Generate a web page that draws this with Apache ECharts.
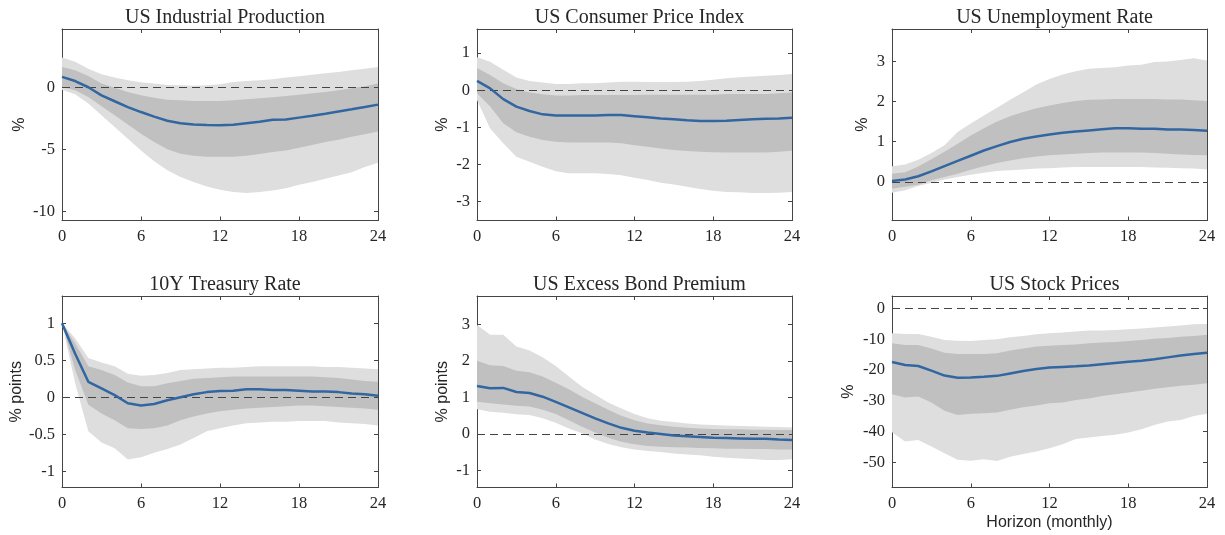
<!DOCTYPE html>
<html>
<head>
<meta charset="utf-8">
<title>Impulse responses</title>
<script src="https://cdn.jsdelivr.net/npm/echarts@6/dist/echarts.min.js"></script>
<style>
  html, body { margin: 0; padding: 0; background: #ffffff; }
  #chart { width: 1225px; height: 535px; }
</style>
</head>
<body>
<div id="chart"></div>
<script>
// Horizon in months and shared x tick positions
const horizon = [0,1,2,3,4,5,6,7,8,9,10,11,12,13,14,15,16,17,18,19,20,21,22,23,24];
const xTicks = [0, 6, 12, 18, 24];

// US Industrial Production (%)
const ipMedian  = [0.84,0.5,0.0,-0.65,-1.13,-1.6,-2.0,-2.37,-2.7,-2.9,-3.0,-3.05,-3.07,-3.02,-2.9,-2.78,-2.62,-2.6,-2.45,-2.3,-2.13,-1.95,-1.78,-1.6,-1.4];
const ipInnerHi = [1.64,1.37,0.9,0.3,-0.03,-0.38,-0.65,-0.84,-1.0,-1.05,-1.1,-1.1,-1.1,-1.05,-0.97,-0.89,-0.8,-0.7,-0.6,-0.49,-0.38,-0.24,-0.08,0.08,0.3];
const ipInnerLo = [0.03,-0.24,-0.78,-1.54,-2.26,-3.0,-3.75,-4.42,-5.0,-5.36,-5.53,-5.6,-5.6,-5.6,-5.53,-5.39,-5.23,-5.1,-4.88,-4.66,-4.42,-4.23,-4.0,-3.8,-3.56];
const ipOuterHi = [2.4,2.05,1.5,1.05,0.78,0.57,0.4,0.3,0.19,0.16,0.13,0.16,0.24,0.43,0.51,0.57,0.65,0.78,0.89,1.0,1.13,1.24,1.37,1.5,1.64];
const ipOuterLo = [-0.2,-0.57,-1.32,-2.26,-3.2,-4.15,-5.1,-5.96,-6.7,-7.25,-7.65,-8.0,-8.27,-8.46,-8.54,-8.46,-8.33,-8.14,-7.87,-7.65,-7.39,-7.12,-6.85,-6.44,-6.1];
const ipTicks = [-10, -5, 0];

// US Consumer Price Index (%)
const cpiMedian  = [0.25,0.05,-0.24,-0.44,-0.56,-0.65,-0.68,-0.68,-0.68,-0.68,-0.67,-0.67,-0.70,-0.73,-0.76,-0.78,-0.81,-0.83,-0.83,-0.82,-0.80,-0.78,-0.77,-0.76,-0.74];
const cpiInnerHi = [0.6,0.41,0.19,0.03,-0.06,-0.11,-0.14,-0.14,-0.13,-0.13,-0.13,-0.13,-0.13,-0.12,-0.12,-0.12,-0.12,-0.12,-0.12,-0.1,-0.1,-0.1,-0.1,-0.08,-0.06];
const cpiInnerLo = [-0.08,-0.44,-0.89,-1.13,-1.25,-1.34,-1.39,-1.41,-1.41,-1.41,-1.41,-1.43,-1.48,-1.52,-1.57,-1.61,-1.64,-1.66,-1.67,-1.68,-1.68,-1.68,-1.68,-1.66,-1.63];
const cpiOuterHi = [0.89,0.77,0.55,0.34,0.25,0.21,0.17,0.17,0.19,0.19,0.21,0.23,0.23,0.22,0.22,0.22,0.23,0.25,0.28,0.32,0.35,0.37,0.39,0.41,0.44];
const cpiOuterLo = [-0.26,-1.03,-1.43,-1.79,-1.93,-2.06,-2.18,-2.24,-2.24,-2.24,-2.26,-2.29,-2.36,-2.42,-2.49,-2.54,-2.6,-2.66,-2.71,-2.74,-2.75,-2.77,-2.77,-2.76,-2.74];
const cpiTicks = [-3, -2, -1, 0, 1];

// US Unemployment Rate (%)
const urMedian  = [0.02,0.06,0.14,0.26,0.39,0.52,0.65,0.78,0.89,0.99,1.07,1.13,1.18,1.22,1.25,1.28,1.31,1.33,1.33,1.32,1.32,1.30,1.30,1.29,1.27];
const urInnerHi = [0.2,0.24,0.38,0.56,0.75,0.95,1.15,1.33,1.5,1.63,1.74,1.83,1.9,1.96,2.01,2.04,2.05,2.06,2.06,2.06,2.06,2.05,2.05,2.03,2.01];
const urInnerLo = [-0.17,-0.12,-0.07,0.04,0.12,0.2,0.3,0.39,0.47,0.53,0.59,0.63,0.66,0.68,0.7,0.72,0.73,0.73,0.73,0.73,0.72,0.7,0.68,0.67,0.66];
const urOuterHi = [0.39,0.43,0.55,0.72,0.91,1.24,1.45,1.65,1.84,2.04,2.23,2.42,2.56,2.67,2.75,2.81,2.83,2.85,2.89,2.91,2.98,2.99,3.03,3.07,3.02];
const urOuterLo = [-0.27,-0.21,-0.1,-0.02,0.06,0.12,0.18,0.23,0.27,0.29,0.31,0.33,0.34,0.36,0.37,0.37,0.37,0.37,0.37,0.37,0.36,0.35,0.34,0.33,0.31];
const urTicks = [0, 1, 2, 3];

// 10Y Treasury Rate (% points)
const tyMedian  = [1.0,0.59,0.21,0.12,0.03,-0.08,-0.11,-0.09,-0.04,0.0,0.04,0.07,0.085,0.09,0.11,0.11,0.10,0.10,0.09,0.08,0.08,0.07,0.05,0.04,0.02];
const tyInnerHi = [1.0,0.73,0.42,0.37,0.3,0.2,0.15,0.15,0.19,0.22,0.25,0.26,0.27,0.28,0.28,0.28,0.28,0.28,0.28,0.28,0.27,0.26,0.24,0.22,0.21];
const tyInnerLo = [1.0,0.37,-0.1,-0.22,-0.31,-0.42,-0.43,-0.42,-0.38,-0.31,-0.26,-0.22,-0.19,-0.17,-0.15,-0.14,-0.13,-0.12,-0.11,-0.11,-0.12,-0.13,-0.14,-0.15,-0.17];
const tyOuterHi = [1.0,0.8,0.53,0.47,0.42,0.32,0.29,0.3,0.33,0.37,0.38,0.39,0.4,0.4,0.41,0.42,0.42,0.42,0.42,0.42,0.41,0.41,0.4,0.39,0.38];
const tyOuterLo = [1.0,0.19,-0.46,-0.61,-0.69,-0.84,-0.81,-0.75,-0.7,-0.64,-0.55,-0.46,-0.42,-0.38,-0.35,-0.34,-0.33,-0.33,-0.32,-0.32,-0.32,-0.34,-0.35,-0.36,-0.38];
const tyTicks = [-1, -0.5, 0, 0.5, 1];

// US Excess Bond Premium (% points)
const ebpMedian  = [1.31,1.25,1.26,1.15,1.12,1.02,0.88,0.73,0.58,0.43,0.29,0.17,0.09,0.04,0.0,-0.04,-0.06,-0.08,-0.1,-0.11,-0.12,-0.13,-0.13,-0.15,-0.16];
const ebpInnerHi = [2.0,1.88,1.86,1.73,1.69,1.57,1.4,1.22,1.02,0.84,0.66,0.5,0.38,0.29,0.24,0.2,0.17,0.15,0.14,0.13,0.13,0.12,0.12,0.11,0.11];
const ebpInnerLo = [0.88,0.84,0.81,0.77,0.75,0.66,0.55,0.38,0.2,0.04,-0.1,-0.21,-0.28,-0.33,-0.35,-0.36,-0.37,-0.38,-0.39,-0.4,-0.4,-0.41,-0.41,-0.42,-0.42];
const ebpOuterHi = [2.98,2.71,2.71,2.39,2.28,2.1,1.86,1.57,1.29,1.07,0.86,0.7,0.55,0.43,0.36,0.33,0.29,0.26,0.25,0.23,0.22,0.21,0.2,0.19,0.18];
const ebpOuterLo = [0.68,0.61,0.58,0.54,0.52,0.43,0.31,0.15,0.02,-0.15,-0.27,-0.36,-0.42,-0.46,-0.49,-0.53,-0.56,-0.58,-0.62,-0.65,-0.67,-0.68,-0.71,-0.71,-0.69];
const ebpTicks = [-1, 0, 1, 2, 3];

// US Stock Prices (%)
const spMedian  = [-17.4,-18.4,-18.7,-20.2,-21.8,-22.5,-22.4,-22.2,-21.9,-21.1,-20.3,-19.7,-19.2,-19.0,-18.8,-18.5,-18.1,-17.7,-17.3,-17.0,-16.5,-15.9,-15.3,-14.8,-14.4];
const spInnerHi = [-11.3,-11.9,-11.9,-13.0,-14.4,-14.8,-14.8,-14.8,-14.6,-13.7,-13.0,-12.4,-12.1,-11.9,-11.7,-11.3,-11.1,-10.9,-10.6,-10.3,-9.9,-9.6,-9.2,-9.0,-8.6];
const spInnerLo = [-27.9,-28.9,-28.6,-30.5,-33.2,-34.6,-34.2,-34.0,-33.8,-32.9,-32.1,-31.5,-30.8,-30.5,-29.7,-29.2,-28.4,-27.9,-27.3,-26.7,-26.1,-25.6,-25.1,-24.8,-24.3];
const spOuterHi = [-8.1,-8.3,-8.3,-9.2,-10.3,-10.5,-10.6,-10.3,-10.0,-9.4,-9.0,-8.4,-8.1,-7.8,-7.5,-7.2,-7.2,-7.0,-6.8,-6.5,-6.2,-5.9,-5.6,-5.2,-5.1];
const spOuterLo = [-40.2,-43.2,-42.7,-44.8,-47.0,-49.1,-49.4,-48.9,-49.5,-48.1,-47.2,-46.4,-45.4,-44.1,-42.4,-41.9,-41.4,-41.0,-40.3,-39.2,-37.8,-36.7,-36.2,-34.9,-34.2];
const spTicks = [-50, -40, -30, -20, -10, 0];

const panelTitles = ['US Industrial Production', 'US Consumer Price Index', 'US Unemployment Rate',
                     '10Y Treasury Rate', 'US Excess Bond Premium', 'US Stock Prices'];
const panelUnits = ['%', '%', '%', '% points', '% points', '%'];
const xAxisTitle = 'Horizon (monthly)';

// Per-panel data bundles
const panels = [
  { med: ipMedian,  iHi: ipInnerHi,  iLo: ipInnerLo,  oHi: ipOuterHi,  oLo: ipOuterLo,  ticks: ipTicks },
  { med: cpiMedian, iHi: cpiInnerHi, iLo: cpiInnerLo, oHi: cpiOuterHi, oLo: cpiOuterLo, ticks: cpiTicks },
  { med: urMedian,  iHi: urInnerHi,  iLo: urInnerLo,  oHi: urOuterHi,  oLo: urOuterLo,  ticks: urTicks },
  { med: tyMedian,  iHi: tyInnerHi,  iLo: tyInnerLo,  oHi: tyOuterHi,  oLo: tyOuterLo,  ticks: tyTicks },
  { med: ebpMedian, iHi: ebpInnerHi, iLo: ebpInnerLo, oHi: ebpOuterHi, oLo: ebpOuterLo, ticks: ebpTicks },
  { med: spMedian,  iHi: spInnerHi,  iLo: spInnerLo,  oHi: spOuterHi,  oLo: spOuterLo,  ticks: spTicks }
];

// Layout and styling
const yRanges = [[-10.75, 4.7], [-3.51, 1.65], [-0.96, 3.8], [-1.22, 1.37], [-1.46, 3.77], [-58.1, 4.0]];
const colLeft = [62, 477, 892];
const colWidth = [316, 315, 315];
const rowTop = [29, 296];
const rowHeight = 191.5;
const nameGaps = [34, 26, 21, 37, 26, 35];

const SERIF = '"Liberation Serif", "Times New Roman", serif';
const SANS = '"Liberation Sans", Arial, Helvetica, sans-serif';
const AXIS_COLOR = '#444444';
const TEXT_COLOR = '#262626';
const OUTER_FILL = '#dedede';
const INNER_FILL = '#c0c0c0';
const LINE_COLOR = '#3266a1';

function bandRenderer(lo, hi, fill) {
  return function (params, api) {
    if (params.dataIndex !== 0) return null;
    const pts = [];
    for (let i = 0; i < horizon.length; i++) pts.push(api.coord([horizon[i], hi[i]]));
    for (let i = horizon.length - 1; i >= 0; i--) pts.push(api.coord([horizon[i], lo[i]]));
    return { type: 'polygon', shape: { points: pts }, style: { fill: fill, stroke: null } };
  };
}

const grids = [], xAxes = [], yAxes = [], series = [], titles = [];

panels.forEach(function (p, k) {
  const col = k % 3, row = Math.floor(k / 3);
  grids.push({ left: colLeft[col], top: rowTop[row], width: colWidth[col], height: rowHeight, containLabel: false });

  titles.push({
    text: panelTitles[k],
    left: colLeft[col] + colWidth[col] / 2,
    top: rowTop[row] - 26,
    textAlign: 'center',
    textStyle: { fontFamily: SERIF, fontSize: 20, fontWeight: 'normal', color: TEXT_COLOR }
  });

  const tickStyle = { show: true, inside: true, length: 4, lineStyle: { color: AXIS_COLOR, width: 1 } };
  const lineStyle = { show: true, onZero: false, lineStyle: { color: AXIS_COLOR, width: 1 } };

  // bottom x axis (labelled)
  xAxes.push({
    type: 'value', gridIndex: k, position: 'bottom', min: 0, max: 24,
    axisLine: lineStyle,
    axisTick: Object.assign({ customValues: xTicks }, tickStyle),
    axisLabel: { customValues: xTicks, fontFamily: SERIF, fontSize: 16.5, color: TEXT_COLOR, margin: 8 },
    splitLine: { show: false },
    name: k === 5 ? xAxisTitle : '',
    nameLocation: 'middle', nameGap: 27,
    nameTextStyle: { fontFamily: SANS, fontSize: 16, color: TEXT_COLOR }
  });
  // top x axis (box edge with ticks)
  xAxes.push({
    type: 'value', gridIndex: k, position: 'top', min: 0, max: 24,
    axisLine: lineStyle,
    axisTick: Object.assign({ customValues: xTicks }, tickStyle),
    axisLabel: { show: false },
    splitLine: { show: false }
  });
  // left y axis (labelled)
  yAxes.push({
    type: 'value', gridIndex: k, position: 'left', min: yRanges[k][0], max: yRanges[k][1],
    axisLine: lineStyle,
    axisTick: Object.assign({ customValues: p.ticks }, tickStyle),
    axisLabel: { customValues: p.ticks, fontFamily: SERIF, fontSize: 16.5, color: TEXT_COLOR, margin: 7 },
    splitLine: { show: false },
    name: panelUnits[k], nameLocation: 'middle', nameGap: nameGaps[k],
    nameTextStyle: { fontFamily: SANS, fontSize: 16, color: TEXT_COLOR }
  });
  // right y axis (box edge with ticks)
  yAxes.push({
    type: 'value', gridIndex: k, position: 'right', min: yRanges[k][0], max: yRanges[k][1],
    axisLine: lineStyle,
    axisTick: Object.assign({ customValues: p.ticks }, tickStyle),
    axisLabel: { show: false },
    splitLine: { show: false }
  });

  const xi = 2 * k, yi = 2 * k;

  series.push({
    type: 'custom', xAxisIndex: xi, yAxisIndex: yi, clip: true, silent: true, z: 1,
    renderItem: bandRenderer(p.oLo, p.oHi, OUTER_FILL),
    data: horizon.map(function (x, i) { return [x, p.oLo[i], p.oHi[i]]; }), encode: { x: 0, y: [1, 2] }
  });
  series.push({
    type: 'custom', xAxisIndex: xi, yAxisIndex: yi, clip: true, silent: true, z: 2,
    renderItem: bandRenderer(p.iLo, p.iHi, INNER_FILL),
    data: horizon.map(function (x, i) { return [x, p.iLo[i], p.iHi[i]]; }), encode: { x: 0, y: [1, 2] }
  });
  series.push({
    type: 'line', xAxisIndex: xi, yAxisIndex: yi, z: 4,
    data: horizon.map(function (x, i) { return [x, p.med[i]]; }),
    showSymbol: false, symbol: 'none', smooth: false,
    lineStyle: { color: LINE_COLOR, width: 2.5 },
    markLine: {
      silent: true, symbol: ['none', 'none'], label: { show: false }, z: 3,
      lineStyle: { color: '#444444', width: 1, type: [8, 5] },
      data: [{ yAxis: 0 }]
    }
  });
});

const chart = echarts.init(document.getElementById('chart'), null, { renderer: 'canvas' });
chart.setOption({
  animation: false,
  backgroundColor: '#ffffff',
  title: titles,
  grid: grids,
  xAxis: xAxes,
  yAxis: yAxes,
  series: series
});
</script>
</body>
</html>
